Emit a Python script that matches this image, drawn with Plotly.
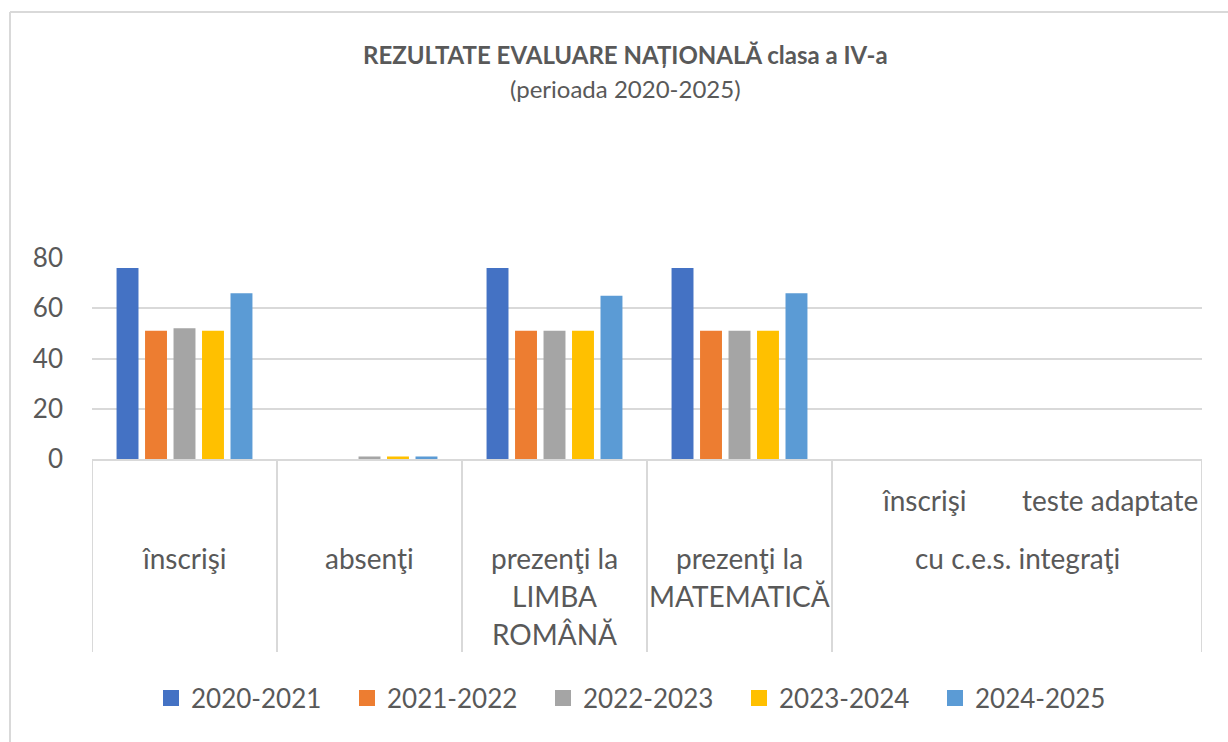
import plotly.graph_objects as go

# ---- data ----
categories = ["înscrişi", "absenţi", "prezenţi la LIMBA ROMÂNĂ", "prezenţi la MATEMATICĂ",
              "înscrişi c.e.s.", "teste adaptate c.e.s."]
outer_labels = ["înscrişi", "absenţi", "prezenţi la\nLIMBA\nROMÂNĂ", "prezenţi la\nMATEMATICĂ",
                "cu c.e.s. integraţi"]
inner_labels = ["", "", "", "", "înscrişi", "teste adaptate"]
series_names = ["2020-2021", "2021-2022", "2022-2023", "2023-2024", "2024-2025"]
v2020_2021 = [76, 0, 76, 76, 0, 0]
v2021_2022 = [51, 0, 51, 51, 0, 0]
v2022_2023 = [52, 1, 51, 51, 0, 0]
v2023_2024 = [51, 1, 51, 51, 0, 0]
v2024_2025 = [66, 1, 65, 66, 0, 0]
series_values = [v2020_2021, v2021_2022, v2022_2023, v2023_2024, v2024_2025]
colors = ["#4472C4", "#ED7D31", "#A5A5A5", "#FFC000", "#5B9BD5"]
y_ticks = [0, 20, 40, 60, 80]

title = "REZULTATE EVALUARE NAȚIONALĂ clasa a IV-a"
subtitle = "(perioada 2020-2025)"

# ---- layout geometry (pixels) ----
W, H = 1228, 742
PL, PR, PT, PB = 92, 1202, 258, 459
TXT = "#595959"
GRID = "#D9D9D9"
FONT = "Lato"


def px2p(px):
    return (px - PL) / (PR - PL)


def py2p(py):
    return (PB - py) / (PB - PT)


fig = go.Figure()
x_idx = list(range(len(categories)))
for name, vals, col in zip(series_names, series_values, colors):
    fig.add_trace(go.Bar(x=x_idx, y=vals, name=name, legendgroup=name, showlegend=False,
                         marker=dict(color=col, line=dict(width=0))))
# legend entries with larger square swatches (no data drawn)
for name, col in zip(series_names, colors):
    fig.add_trace(go.Scatter(x=[None], y=[None], mode="markers", name=name, legendgroup=name,
                             marker=dict(symbol="square", size=16, color=col), hoverinfo="skip"))

annotations = []
# title
annotations.append(dict(text="<b>" + title + "</b>", x=px2p(625), y=py2p(55), xref="paper", yref="paper",
                        showarrow=False, font=dict(family=FONT, size=24, color=TXT), xanchor="center", yanchor="middle"))
annotations.append(dict(text=subtitle, x=px2p(625), y=py2p(88), xref="paper", yref="paper",
                        showarrow=False, font=dict(family=FONT, size=24, color=TXT), xanchor="center", yanchor="middle"))

LBL = 28
# outer category labels
outer_pos = [0, 1, 2, 3, 4.5]
for lab, xpos in zip(outer_labels, outer_pos):
    for i, line in enumerate(lab.split("\n")):
        annotations.append(dict(text=line, x=xpos, y=py2p(558 + 38 * i), xref="x", yref="paper",
                                showarrow=False, font=dict(family=FONT, size=LBL, color=TXT),
                                xanchor="center", yanchor="middle"))
# inner category labels
for i, lab in enumerate(inner_labels):
    if lab:
        annotations.append(dict(text=lab, x=i, y=py2p(500), xref="x", yref="paper",
                                showarrow=False, font=dict(family=FONT, size=LBL, color=TXT),
                                xanchor="center", yanchor="middle"))

shapes = []
# category separators
for xb in [-0.5, 0.5, 1.5, 2.5, 3.5, 5.5]:
    shapes.append(dict(type="line", xref="x", yref="paper", x0=xb, x1=xb, y0=0, y1=py2p(652),
                       line=dict(color=GRID, width=2)))
# chart border (left and top)
shapes.append(dict(type="line", xref="paper", yref="paper", x0=px2p(10), x1=px2p(10), y0=py2p(12), y1=py2p(760),
                   line=dict(color=GRID, width=2)))
shapes.append(dict(type="line", xref="paper", yref="paper", x0=px2p(10), x1=px2p(1240), y0=py2p(12), y1=py2p(12),
                   line=dict(color=GRID, width=2)))

fig.update_layout(
    width=W, height=H,
    margin=dict(l=PL, r=W - PR, t=PT, b=H - PB, pad=0),
    paper_bgcolor="white", plot_bgcolor="white",
    barmode="group", bargap=0.23, bargroupgap=0.23,
    font=dict(family=FONT, color=TXT),
    xaxis=dict(range=[-0.5, 5.5], showticklabels=False, showgrid=False, zeroline=False,
               showline=True, linecolor=GRID, linewidth=2, ticks=""),
    yaxis=dict(range=[0, 80], tickvals=y_ticks, showgrid=True, gridcolor=GRID, gridwidth=2,
               zeroline=False, showline=False, ticks="", ticklabelstandoff=28,
               tickfont=dict(family=FONT, size=26, color=TXT)),
    legend=dict(orientation="h", x=px2p(641), xanchor="center", y=py2p(698), yanchor="middle",
                font=dict(family=FONT, size=26, color=TXT), itemwidth=30,
                entrywidth=151, entrywidthmode="pixels"),
    annotations=annotations,
    shapes=shapes,
)

fig.write_html("out.html", config={"displayModeBar": False},
               post_script="document.body.style.margin='0';")
